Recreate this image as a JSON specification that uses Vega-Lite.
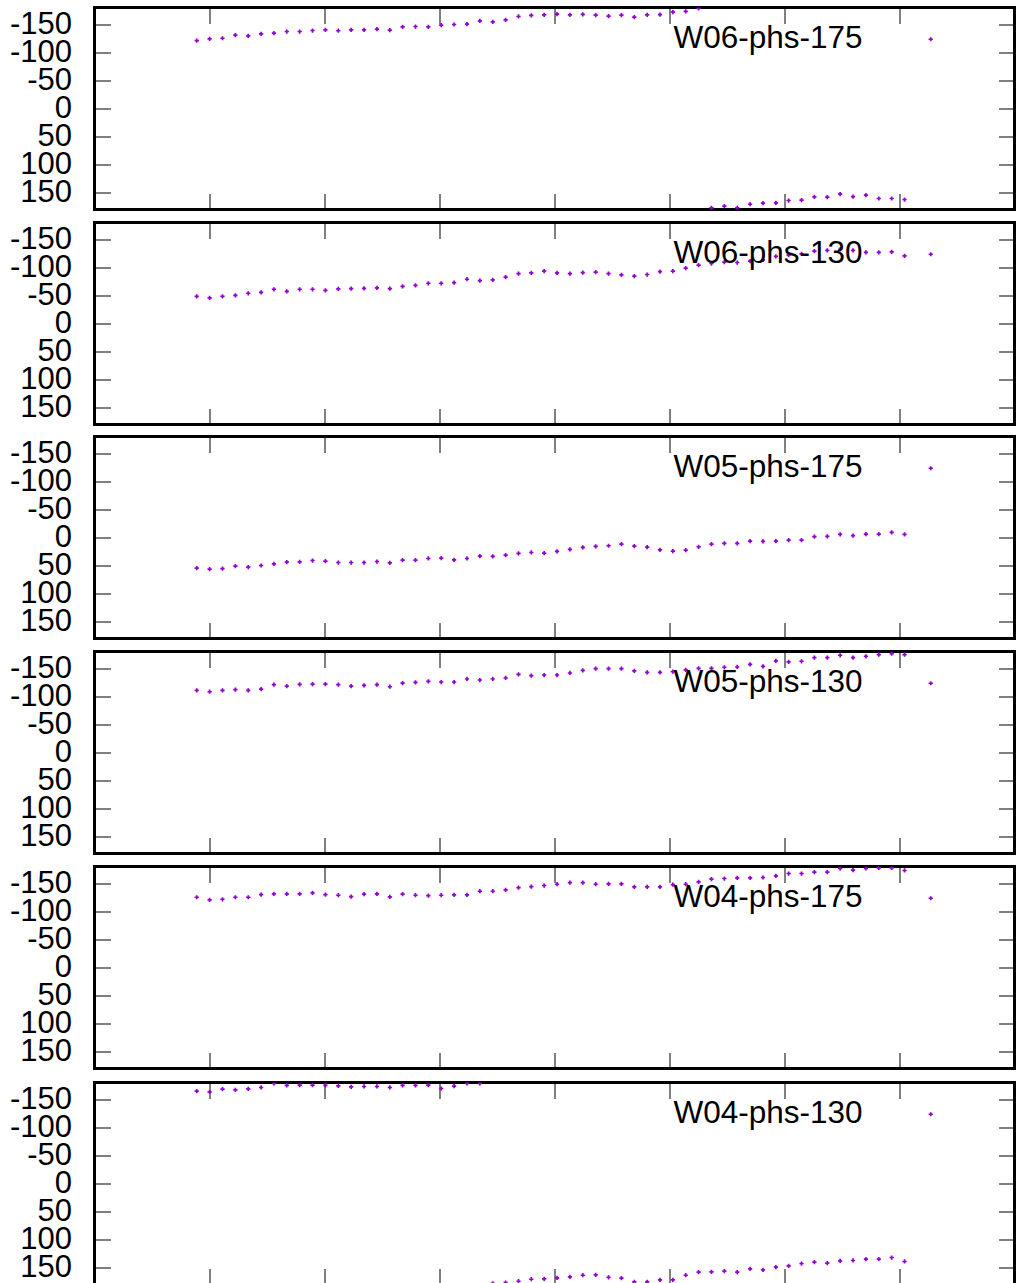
{
  "$schema": "https://vega.github.io/schema/vega-lite/v6.json",
  "background": "white",
  "padding": {"left": 2.5, "top": 3.5, "right": 0, "bottom": 0},
  "datasets": {
    "phase": [
      {"x": 0.889, "W06-phs-175": -121.1, "W06-phs-130": -48.5, "W05-phs-175": 54.7, "W05-phs-130": -110.7, "W04-phs-175": -125.2, "W04-phs-130": -164.5},
      {"x": 1.001, "W06-phs-175": -124.1, "W06-phs-130": -45.5, "W05-phs-175": 56.5, "W05-phs-130": -108.3, "W04-phs-175": -120.4, "W04-phs-130": -163.3},
      {"x": 1.113, "W06-phs-175": -125.2, "W06-phs-130": -48.5, "W05-phs-175": 55.3, "W05-phs-130": -110.7, "W04-phs-175": -121.6, "W04-phs-130": -168.1},
      {"x": 1.225, "W06-phs-175": -130.6, "W06-phs-130": -50.3, "W05-phs-175": 51.1, "W05-phs-130": -111.9, "W04-phs-175": -125.2, "W04-phs-130": -166.9},
      {"x": 1.337, "W06-phs-175": -129.4, "W06-phs-130": -53.9, "W05-phs-175": 52.9, "W05-phs-130": -110.7, "W04-phs-175": -125.2, "W04-phs-130": -168.7},
      {"x": 1.449, "W06-phs-175": -133.0, "W06-phs-130": -55.6, "W05-phs-175": 49.9, "W05-phs-130": -113.1, "W04-phs-175": -130.0, "W04-phs-130": -171.1},
      {"x": 1.560, "W06-phs-175": -134.2, "W06-phs-130": -61.0, "W05-phs-175": 46.9, "W05-phs-130": -120.8, "W04-phs-175": -131.2, "W04-phs-130": -178.3},
      {"x": 1.672, "W06-phs-175": -137.2, "W06-phs-130": -57.4, "W05-phs-175": 44.0, "W05-phs-130": -118.4, "W04-phs-175": -131.2, "W04-phs-130": -174.7},
      {"x": 1.784, "W06-phs-175": -137.2, "W06-phs-130": -61.0, "W05-phs-175": 43.4, "W05-phs-130": -121.4, "W04-phs-175": -131.2, "W04-phs-130": -175.3},
      {"x": 1.896, "W06-phs-175": -139.0, "W06-phs-130": -61.0, "W05-phs-175": 41.0, "W05-phs-130": -122.0, "W04-phs-175": -132.9, "W04-phs-130": -175.3},
      {"x": 2.008, "W06-phs-175": -140.2, "W06-phs-130": -59.2, "W05-phs-175": 42.2, "W05-phs-130": -122.0, "W04-phs-175": -130.0, "W04-phs-130": -174.7},
      {"x": 2.120, "W06-phs-175": -138.6, "W06-phs-130": -61.6, "W05-phs-175": 44.6, "W05-phs-130": -120.8, "W04-phs-175": -128.8, "W04-phs-130": -174.1},
      {"x": 2.232, "W06-phs-175": -140.2, "W06-phs-130": -62.0, "W05-phs-175": 44.6, "W05-phs-130": -118.4, "W04-phs-175": -126.4, "W04-phs-130": -172.3},
      {"x": 2.344, "W06-phs-175": -140.2, "W06-phs-130": -62.5, "W05-phs-175": 44.6, "W05-phs-130": -119.6, "W04-phs-175": -130.6, "W04-phs-130": -172.9},
      {"x": 2.456, "W06-phs-175": -141.3, "W06-phs-130": -63.5, "W05-phs-175": 42.8, "W05-phs-130": -120.8, "W04-phs-175": -131.2, "W04-phs-130": -172.9},
      {"x": 2.568, "W06-phs-175": -139.6, "W06-phs-130": -62.0, "W05-phs-175": 45.1, "W05-phs-130": -117.2, "W04-phs-175": -125.8, "W04-phs-130": -171.1},
      {"x": 2.679, "W06-phs-175": -145.5, "W06-phs-130": -66.0, "W05-phs-175": 40.4, "W05-phs-130": -123.8, "W04-phs-175": -130.6, "W04-phs-130": -174.7},
      {"x": 2.791, "W06-phs-175": -146.1, "W06-phs-130": -68.0, "W05-phs-175": 40.4, "W05-phs-130": -125.0, "W04-phs-175": -128.8, "W04-phs-130": -174.7},
      {"x": 2.903, "W06-phs-175": -145.5, "W06-phs-130": -71.7, "W05-phs-175": 37.4, "W05-phs-130": -126.8, "W04-phs-175": -128.2, "W04-phs-130": -175.3},
      {"x": 3.015, "W06-phs-175": -148.5, "W06-phs-130": -71.7, "W05-phs-175": 36.8, "W05-phs-130": -125.6, "W04-phs-175": -128.8, "W04-phs-130": -169.3},
      {"x": 3.127, "W06-phs-175": -149.7, "W06-phs-130": -72.9, "W05-phs-175": 39.8, "W05-phs-130": -125.6, "W04-phs-175": -129.4, "W04-phs-130": -173.5},
      {"x": 3.239, "W06-phs-175": -150.3, "W06-phs-130": -78.9, "W05-phs-175": 37.4, "W05-phs-130": -131.0, "W04-phs-175": -129.4, "W04-phs-130": -178.3},
      {"x": 3.351, "W06-phs-175": -156.3, "W06-phs-130": -76.5, "W05-phs-175": 33.2, "W05-phs-130": -129.2, "W04-phs-175": -135.9, "W04-phs-130": -178.3},
      {"x": 3.463, "W06-phs-175": -154.5, "W06-phs-130": -77.7, "W05-phs-175": 33.8, "W05-phs-130": -131.0, "W04-phs-175": -135.9, "W04-phs-130": 177.8},
      {"x": 3.575, "W06-phs-175": -158.1, "W06-phs-130": -82.5, "W05-phs-175": 31.4, "W05-phs-130": -132.8, "W04-phs-175": -138.3, "W04-phs-130": 176.6},
      {"x": 3.687, "W06-phs-175": -164.0, "W06-phs-130": -89.0, "W05-phs-175": 28.4, "W05-phs-130": -139.3, "W04-phs-175": -142.5, "W04-phs-130": 174.2},
      {"x": 3.798, "W06-phs-175": -165.8, "W06-phs-130": -90.2, "W05-phs-175": 26.7, "W05-phs-130": -136.9, "W04-phs-175": -144.3, "W04-phs-130": 170.6},
      {"x": 3.910, "W06-phs-175": -167.0, "W06-phs-130": -93.2, "W05-phs-175": 27.9, "W05-phs-130": -138.1, "W04-phs-175": -146.1, "W04-phs-130": 170.0},
      {"x": 4.022, "W06-phs-175": -168.2, "W06-phs-130": -90.2, "W05-phs-175": 24.9, "W05-phs-130": -138.1, "W04-phs-175": -148.4, "W04-phs-130": 168.2},
      {"x": 4.134, "W06-phs-175": -167.0, "W06-phs-130": -89.0, "W05-phs-175": 21.3, "W05-phs-130": -141.7, "W04-phs-175": -151.4, "W04-phs-130": 166.5},
      {"x": 4.246, "W06-phs-175": -167.6, "W06-phs-130": -90.8, "W05-phs-175": 17.7, "W05-phs-130": -146.5, "W04-phs-175": -151.4, "W04-phs-130": 163.5},
      {"x": 4.358, "W06-phs-175": -166.4, "W06-phs-130": -91.4, "W05-phs-175": 15.9, "W05-phs-130": -149.5, "W04-phs-175": -148.4, "W04-phs-130": 162.9},
      {"x": 4.470, "W06-phs-175": -164.6, "W06-phs-130": -89.0, "W05-phs-175": 14.7, "W05-phs-130": -149.5, "W04-phs-175": -149.0, "W04-phs-130": 167.1},
      {"x": 4.582, "W06-phs-175": -166.4, "W06-phs-130": -86.7, "W05-phs-175": 11.8, "W05-phs-130": -149.5, "W04-phs-175": -149.0, "W04-phs-130": 168.8},
      {"x": 4.694, "W06-phs-175": -162.8, "W06-phs-130": -84.3, "W05-phs-175": 15.3, "W05-phs-130": -145.3, "W04-phs-175": -143.7, "W04-phs-130": 175.4},
      {"x": 4.806, "W06-phs-175": -167.0, "W06-phs-130": -87.3, "W05-phs-175": 17.1, "W05-phs-130": -142.9, "W04-phs-175": -143.7, "W04-phs-130": 175.4},
      {"x": 4.917, "W06-phs-175": -167.3, "W06-phs-130": -92.3, "W05-phs-175": 21.9, "W05-phs-130": -142.9, "W04-phs-175": -143.7, "W04-phs-130": 171.8},
      {"x": 5.029, "W06-phs-175": -171.8, "W06-phs-130": -93.2, "W05-phs-175": 24.3, "W05-phs-130": -144.1, "W04-phs-175": -147.8, "W04-phs-130": 171.8},
      {"x": 5.141, "W06-phs-175": -173.0, "W06-phs-130": -98.6, "W05-phs-175": 22.5, "W05-phs-130": -147.1, "W04-phs-175": -148.4, "W04-phs-130": 163.5},
      {"x": 5.253, "W06-phs-175": -178.3, "W06-phs-130": -104.0, "W05-phs-175": 16.5, "W05-phs-130": -150.1, "W04-phs-175": -152.6, "W04-phs-130": 158.1},
      {"x": 5.365, "W06-phs-175": 177.1, "W06-phs-130": -106.9, "W05-phs-175": 11.8, "W05-phs-130": -150.1, "W04-phs-175": -157.4, "W04-phs-130": 157.5},
      {"x": 5.477, "W06-phs-175": 174.1, "W06-phs-130": -109.3, "W05-phs-175": 10.6, "W05-phs-130": -151.9, "W04-phs-175": -158.6, "W04-phs-130": 156.3},
      {"x": 5.589, "W06-phs-175": 177.1, "W06-phs-130": -108.7, "W05-phs-175": 10.6, "W05-phs-130": -152.4, "W04-phs-175": -159.8, "W04-phs-130": 158.1},
      {"x": 5.701, "W06-phs-175": 170.6, "W06-phs-130": -111.1, "W05-phs-175": 6.4, "W05-phs-130": -157.2, "W04-phs-175": -159.8, "W04-phs-130": 152.1},
      {"x": 5.813, "W06-phs-175": 168.8, "W06-phs-130": -113.5, "W05-phs-175": 7.0, "W05-phs-130": -153.6, "W04-phs-175": -160.4, "W04-phs-130": 153.9},
      {"x": 5.925, "W06-phs-175": 168.2, "W06-phs-130": -119.5, "W05-phs-175": 6.4, "W05-phs-130": -163.2, "W04-phs-175": -163.4, "W04-phs-130": 149.2},
      {"x": 6.036, "W06-phs-175": 164.0, "W06-phs-130": -121.8, "W05-phs-175": 4.6, "W05-phs-130": -161.4, "W04-phs-175": -167.5, "W04-phs-130": 146.8},
      {"x": 6.148, "W06-phs-175": 163.4, "W06-phs-130": -124.2, "W05-phs-175": 4.6, "W05-phs-130": -162.6, "W04-phs-175": -167.5, "W04-phs-130": 142.6},
      {"x": 6.260, "W06-phs-175": 157.5, "W06-phs-130": -129.0, "W05-phs-175": -1.4, "W05-phs-130": -169.1, "W04-phs-175": -169.9, "W04-phs-130": 140.2},
      {"x": 6.372, "W06-phs-175": 158.0, "W06-phs-130": -130.2, "W05-phs-175": -2.0, "W05-phs-130": -169.1, "W04-phs-175": -169.9, "W04-phs-130": 142.0},
      {"x": 6.484, "W06-phs-175": 152.7, "W06-phs-130": -132.0, "W05-phs-175": -5.5, "W05-phs-130": -173.3, "W04-phs-175": -176.5, "W04-phs-130": 137.8},
      {"x": 6.596, "W06-phs-175": 156.9, "W06-phs-130": -130.2, "W05-phs-175": -3.2, "W05-phs-130": -169.1, "W04-phs-175": -173.5, "W04-phs-130": 137.2},
      {"x": 6.708, "W06-phs-175": 154.5, "W06-phs-130": -126.6, "W05-phs-175": -6.1, "W05-phs-130": -171.5, "W04-phs-175": -176.5, "W04-phs-130": 134.9},
      {"x": 6.820, "W06-phs-175": 160.4, "W06-phs-130": -126.6, "W05-phs-175": -6.1, "W05-phs-130": -174.5, "W04-phs-175": -177.7, "W04-phs-130": 134.9},
      {"x": 6.932, "W06-phs-175": 160.4, "W06-phs-130": -127.8, "W05-phs-175": -9.1, "W05-phs-130": -176.3, "W04-phs-175": -177.7, "W04-phs-130": 131.9},
      {"x": 7.044, "W06-phs-175": 162.2, "W06-phs-130": -120.6, "W05-phs-175": -5.5, "W05-phs-130": -174.5, "W04-phs-175": -172.9, "W04-phs-130": 139.0}
    ]
  },
  "data": {"name": "phase"},
  "transform": [
    {"fold": ["W06-phs-175", "W06-phs-130", "W05-phs-175", "W05-phs-130", "W04-phs-175", "W04-phs-130"], "as": ["series", "phase"]}
  ],
  "spacing": 8,
  "vconcat": [
    {
      "width": 920, "height": 202,
      "transform": [{"filter": {"field": "series", "equal": "W06-phs-175"}}],
      "layer": [
        {"mark": {"type": "point", "shape": "cross", "filled": true, "size": 18, "clip": true, "opacity": 1},
         "encoding": {
           "x": {"field": "x", "type": "quantitative", "scale": {"domain": [0, 8], "nice": false, "zero": false}, "axis": {"orient": "bottom", "values": [1, 2, 3, 4, 5, 6, 7], "labels": false, "tickSize": -16, "domain": false, "grid": false, "title": null, "minExtent": 0, "maxExtent": 0}},
           "y": {"field": "phase", "type": "quantitative", "scale": {"domain": [-180, 180], "reverse": true, "nice": false, "zero": false}, "axis": {"orient": "left", "values": [-150, -100, -50, 0, 50, 100, 150], "labelExpr": "'' + datum.value", "labelOverlap": false, "labelBound": false, "tickSize": -16, "labelPadding": 39, "domain": false, "grid": false, "title": null, "minExtent": 90, "maxExtent": 90}},
           "color": {"field": "series", "type": "nominal", "scale": {"range": ["#9400d3"]}, "legend": {"orient": "none", "legendX": 820.5, "legendY": 16, "title": null, "labelAlign": "right", "labelOffset": -84, "labelFontSize": 31.5, "symbolType": "cross", "symbolSize": 18, "symbolStrokeWidth": 0, "padding": 0, "labelLimit": 0}}
         }},
        {"mark": {"type": "point", "opacity": 0},
         "encoding": {
           "x": {"field": "x", "type": "quantitative", "axis": {"orient": "top", "values": [1, 2, 3, 4, 5, 6, 7], "labels": false, "tickSize": -16, "domain": false, "grid": false, "title": null, "minExtent": 0, "maxExtent": 0}},
           "y": {"field": "phase", "type": "quantitative", "axis": {"orient": "right", "values": [-150, -100, -50, 0, 50, 100, 150], "labels": false, "tickSize": -16, "domain": false, "grid": false, "title": null, "minExtent": 0, "maxExtent": 0}}
         }}
      ],
      "resolve": {"axis": {"x": "independent", "y": "independent"}}
    },
    {
      "width": 920, "height": 202,
      "transform": [{"filter": {"field": "series", "equal": "W06-phs-130"}}],
      "layer": [
        {"mark": {"type": "point", "shape": "cross", "filled": true, "size": 18, "clip": true, "opacity": 1},
         "encoding": {
           "x": {"field": "x", "type": "quantitative", "scale": {"domain": [0, 8], "nice": false, "zero": false}, "axis": {"orient": "bottom", "values": [1, 2, 3, 4, 5, 6, 7], "labels": false, "tickSize": -16, "domain": false, "grid": false, "title": null, "minExtent": 0, "maxExtent": 0}},
           "y": {"field": "phase", "type": "quantitative", "scale": {"domain": [-180, 180], "reverse": true, "nice": false, "zero": false}, "axis": {"orient": "left", "values": [-150, -100, -50, 0, 50, 100, 150], "labelExpr": "'' + datum.value", "labelOverlap": false, "labelBound": false, "tickSize": -16, "labelPadding": 39, "domain": false, "grid": false, "title": null, "minExtent": 90, "maxExtent": 90}},
           "color": {"field": "series", "type": "nominal", "scale": {"range": ["#9400d3"]}, "legend": {"orient": "none", "legendX": 820.5, "legendY": 16, "title": null, "labelAlign": "right", "labelOffset": -84, "labelFontSize": 31.5, "symbolType": "cross", "symbolSize": 18, "symbolStrokeWidth": 0, "padding": 0, "labelLimit": 0}}
         }},
        {"mark": {"type": "point", "opacity": 0},
         "encoding": {
           "x": {"field": "x", "type": "quantitative", "axis": {"orient": "top", "values": [1, 2, 3, 4, 5, 6, 7], "labels": false, "tickSize": -16, "domain": false, "grid": false, "title": null, "minExtent": 0, "maxExtent": 0}},
           "y": {"field": "phase", "type": "quantitative", "axis": {"orient": "right", "values": [-150, -100, -50, 0, 50, 100, 150], "labels": false, "tickSize": -16, "domain": false, "grid": false, "title": null, "minExtent": 0, "maxExtent": 0}}
         }}
      ],
      "resolve": {"axis": {"x": "independent", "y": "independent"}}
    },
    {
      "width": 920, "height": 202,
      "transform": [{"filter": {"field": "series", "equal": "W05-phs-175"}}],
      "layer": [
        {"mark": {"type": "point", "shape": "cross", "filled": true, "size": 18, "clip": true, "opacity": 1},
         "encoding": {
           "x": {"field": "x", "type": "quantitative", "scale": {"domain": [0, 8], "nice": false, "zero": false}, "axis": {"orient": "bottom", "values": [1, 2, 3, 4, 5, 6, 7], "labels": false, "tickSize": -16, "domain": false, "grid": false, "title": null, "minExtent": 0, "maxExtent": 0}},
           "y": {"field": "phase", "type": "quantitative", "scale": {"domain": [-180, 180], "reverse": true, "nice": false, "zero": false}, "axis": {"orient": "left", "values": [-150, -100, -50, 0, 50, 100, 150], "labelExpr": "'' + datum.value", "labelOverlap": false, "labelBound": false, "tickSize": -16, "labelPadding": 39, "domain": false, "grid": false, "title": null, "minExtent": 90, "maxExtent": 90}},
           "color": {"field": "series", "type": "nominal", "scale": {"range": ["#9400d3"]}, "legend": {"orient": "none", "legendX": 820.5, "legendY": 16, "title": null, "labelAlign": "right", "labelOffset": -84, "labelFontSize": 31.5, "symbolType": "cross", "symbolSize": 18, "symbolStrokeWidth": 0, "padding": 0, "labelLimit": 0}}
         }},
        {"mark": {"type": "point", "opacity": 0},
         "encoding": {
           "x": {"field": "x", "type": "quantitative", "axis": {"orient": "top", "values": [1, 2, 3, 4, 5, 6, 7], "labels": false, "tickSize": -16, "domain": false, "grid": false, "title": null, "minExtent": 0, "maxExtent": 0}},
           "y": {"field": "phase", "type": "quantitative", "axis": {"orient": "right", "values": [-150, -100, -50, 0, 50, 100, 150], "labels": false, "tickSize": -16, "domain": false, "grid": false, "title": null, "minExtent": 0, "maxExtent": 0}}
         }}
      ],
      "resolve": {"axis": {"x": "independent", "y": "independent"}}
    },
    {
      "width": 920, "height": 202,
      "transform": [{"filter": {"field": "series", "equal": "W05-phs-130"}}],
      "layer": [
        {"mark": {"type": "point", "shape": "cross", "filled": true, "size": 18, "clip": true, "opacity": 1},
         "encoding": {
           "x": {"field": "x", "type": "quantitative", "scale": {"domain": [0, 8], "nice": false, "zero": false}, "axis": {"orient": "bottom", "values": [1, 2, 3, 4, 5, 6, 7], "labels": false, "tickSize": -16, "domain": false, "grid": false, "title": null, "minExtent": 0, "maxExtent": 0}},
           "y": {"field": "phase", "type": "quantitative", "scale": {"domain": [-180, 180], "reverse": true, "nice": false, "zero": false}, "axis": {"orient": "left", "values": [-150, -100, -50, 0, 50, 100, 150], "labelExpr": "'' + datum.value", "labelOverlap": false, "labelBound": false, "tickSize": -16, "labelPadding": 39, "domain": false, "grid": false, "title": null, "minExtent": 90, "maxExtent": 90}},
           "color": {"field": "series", "type": "nominal", "scale": {"range": ["#9400d3"]}, "legend": {"orient": "none", "legendX": 820.5, "legendY": 16, "title": null, "labelAlign": "right", "labelOffset": -84, "labelFontSize": 31.5, "symbolType": "cross", "symbolSize": 18, "symbolStrokeWidth": 0, "padding": 0, "labelLimit": 0}}
         }},
        {"mark": {"type": "point", "opacity": 0},
         "encoding": {
           "x": {"field": "x", "type": "quantitative", "axis": {"orient": "top", "values": [1, 2, 3, 4, 5, 6, 7], "labels": false, "tickSize": -16, "domain": false, "grid": false, "title": null, "minExtent": 0, "maxExtent": 0}},
           "y": {"field": "phase", "type": "quantitative", "axis": {"orient": "right", "values": [-150, -100, -50, 0, 50, 100, 150], "labels": false, "tickSize": -16, "domain": false, "grid": false, "title": null, "minExtent": 0, "maxExtent": 0}}
         }}
      ],
      "resolve": {"axis": {"x": "independent", "y": "independent"}}
    },
    {
      "width": 920, "height": 202,
      "transform": [{"filter": {"field": "series", "equal": "W04-phs-175"}}],
      "layer": [
        {"mark": {"type": "point", "shape": "cross", "filled": true, "size": 18, "clip": true, "opacity": 1},
         "encoding": {
           "x": {"field": "x", "type": "quantitative", "scale": {"domain": [0, 8], "nice": false, "zero": false}, "axis": {"orient": "bottom", "values": [1, 2, 3, 4, 5, 6, 7], "labels": false, "tickSize": -16, "domain": false, "grid": false, "title": null, "minExtent": 0, "maxExtent": 0}},
           "y": {"field": "phase", "type": "quantitative", "scale": {"domain": [-180, 180], "reverse": true, "nice": false, "zero": false}, "axis": {"orient": "left", "values": [-150, -100, -50, 0, 50, 100, 150], "labelExpr": "'' + datum.value", "labelOverlap": false, "labelBound": false, "tickSize": -16, "labelPadding": 39, "domain": false, "grid": false, "title": null, "minExtent": 90, "maxExtent": 90}},
           "color": {"field": "series", "type": "nominal", "scale": {"range": ["#9400d3"]}, "legend": {"orient": "none", "legendX": 820.5, "legendY": 16, "title": null, "labelAlign": "right", "labelOffset": -84, "labelFontSize": 31.5, "symbolType": "cross", "symbolSize": 18, "symbolStrokeWidth": 0, "padding": 0, "labelLimit": 0}}
         }},
        {"mark": {"type": "point", "opacity": 0},
         "encoding": {
           "x": {"field": "x", "type": "quantitative", "axis": {"orient": "top", "values": [1, 2, 3, 4, 5, 6, 7], "labels": false, "tickSize": -16, "domain": false, "grid": false, "title": null, "minExtent": 0, "maxExtent": 0}},
           "y": {"field": "phase", "type": "quantitative", "axis": {"orient": "right", "values": [-150, -100, -50, 0, 50, 100, 150], "labels": false, "tickSize": -16, "domain": false, "grid": false, "title": null, "minExtent": 0, "maxExtent": 0}}
         }}
      ],
      "resolve": {"axis": {"x": "independent", "y": "independent"}}
    },
    {
      "width": 920, "height": 202,
      "transform": [{"filter": {"field": "series", "equal": "W04-phs-130"}}],
      "layer": [
        {"mark": {"type": "point", "shape": "cross", "filled": true, "size": 18, "clip": true, "opacity": 1},
         "encoding": {
           "x": {"field": "x", "type": "quantitative", "scale": {"domain": [0, 8], "nice": false, "zero": false}, "axis": {"orient": "bottom", "values": [1, 2, 3, 4, 5, 6, 7], "labels": false, "tickSize": -16, "domain": false, "grid": false, "title": null, "minExtent": 0, "maxExtent": 0}},
           "y": {"field": "phase", "type": "quantitative", "scale": {"domain": [-180, 180], "reverse": true, "nice": false, "zero": false}, "axis": {"orient": "left", "values": [-150, -100, -50, 0, 50, 100, 150], "labelExpr": "'' + datum.value", "labelOverlap": false, "labelBound": false, "tickSize": -16, "labelPadding": 39, "domain": false, "grid": false, "title": null, "minExtent": 90, "maxExtent": 90}},
           "color": {"field": "series", "type": "nominal", "scale": {"range": ["#9400d3"]}, "legend": {"orient": "none", "legendX": 820.5, "legendY": 16, "title": null, "labelAlign": "right", "labelOffset": -84, "labelFontSize": 31.5, "symbolType": "cross", "symbolSize": 18, "symbolStrokeWidth": 0, "padding": 0, "labelLimit": 0}}
         }},
        {"mark": {"type": "point", "opacity": 0},
         "encoding": {
           "x": {"field": "x", "type": "quantitative", "axis": {"orient": "top", "values": [1, 2, 3, 4, 5, 6, 7], "labels": false, "tickSize": -16, "domain": false, "grid": false, "title": null, "minExtent": 0, "maxExtent": 0}},
           "y": {"field": "phase", "type": "quantitative", "axis": {"orient": "right", "values": [-150, -100, -50, 0, 50, 100, 150], "labels": false, "tickSize": -16, "domain": false, "grid": false, "title": null, "minExtent": 0, "maxExtent": 0}}
         }}
      ],
      "resolve": {"axis": {"x": "independent", "y": "independent"}}
    }
  ],
  "resolve": {"scale": {"color": "independent"}, "legend": {"color": "independent"}},
  "config": {
    "font": "Liberation Sans",
    "view": {"stroke": "black", "strokeWidth": 3},
    "axis": {"labelFont": "Liberation Sans", "labelFontSize": 31, "labelColor": "black", "tickColor": "black", "tickWidth": 1},
    "legend": {"labelFont": "Liberation Sans", "labelColor": "black"}
  }
}
